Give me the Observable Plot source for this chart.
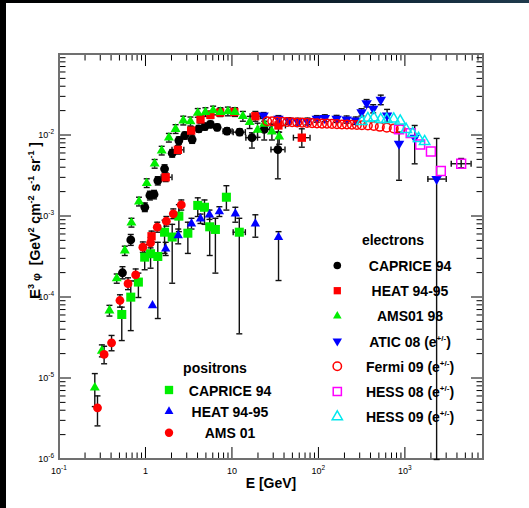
<!DOCTYPE html>
<html><head><meta charset="utf-8">
<script src="https://cdn.jsdelivr.net/npm/d3@7"></script>
<script src="https://cdn.jsdelivr.net/npm/@observablehq/plot@0.6"></script>
<style>
html,body{margin:0;padding:0;width:529px;height:508px;overflow:hidden;}
body{background:linear-gradient(to right,#000 0%,#03090d 35%,#12293a 75%,#1f3a4c 100%);position:relative;}
#chart{position:absolute;left:6px;top:3px;width:523px;height:505px;background:#fff;}
#chart svg{display:block;overflow:visible;}
</style></head><body><div id="chart"></div>
<script>
// ---------- axes ----------
const xDomain = [0.1, 8000];
const yDomain = [1e-6, 0.1];
const xMajor = [0.1, 1, 10, 100, 1000];
const xMajorLabels = ["10^-1", "1", "10", "10^2", "10^3"];
const yMajor = [1e-6, 1e-5, 1e-4, 1e-3, 1e-2];
const yMajorLabels = ["10^-6", "10^-5", "10^-4", "10^-3", "10^-2"];
const minorMultipliers = [2, 3, 4, 5, 6, 7, 8, 9];
const xTitle = "E [GeV]";

// ---------- electrons ----------
// CAPRICE 94 (e-)
const capElE   = [0.535,0.667,0.97,1.11,1.24,1.37,1.64,2.01,2.4,2.81,3.42,4.08,4.8,5.56,6.65,8.65,12.1,16.8,23.3,33.5];
const capElPhi = [2.02e-4,5.13e-4,1.3e-3,1.82e-3,1.87e-3,2.78e-3,3.88e-3,6.04e-3,8.67e-3,1.0e-2,8.9e-3,1.21e-2,1.29e-2,1.37e-2,1.26e-2,1.13e-2,1.1e-2,9.4e-3,1.19e-2,6.7e-3];
const capElLo  = [1.7e-4,4.4e-4,1.15e-3,1.6e-3,1.65e-3,2.45e-3,3.45e-3,5.4e-3,7.8e-3,9.0e-3,8.0e-3,1.1e-2,1.17e-2,1.25e-2,1.15e-2,1.03e-2,1.0e-2,7.0e-3,8.8e-3,2.92e-3];
const capElHi  = [2.4e-4,6.0e-4,1.47e-3,2.05e-3,2.1e-3,3.1e-3,4.35e-3,6.7e-3,9.6e-3,1.1e-2,9.9e-3,1.33e-2,1.42e-2,1.5e-2,1.38e-2,1.24e-2,1.21e-2,1.08e-2,1.5e-2,1.1e-2];
const capElXlo = [null,null,null,null,null,null,null,null,null,null,null,null,null,null,null,7.8,10.2,14.3,20.0,27.9];
const capElXhi = [null,null,null,null,null,null,null,null,null,null,null,null,null,null,null,9.9,14.1,19.5,27.0,40.5];

// HEAT 94-95 (e-)
const heatElE   = [1.16,1.69,2.34,3.33,4.27,5.56,7.2,10.5,18.4,34,63.4];
const heatElPhi = [5.7e-4,3.05e-3,6.65e-3,1.15e-2,1.58e-2,1.8e-2,1.92e-2,1.95e-2,1.73e-2,1.33e-2,9.4e-3];
const heatElLo  = [4.9e-4,2.7e-3,5.9e-3,1.03e-2,1.42e-2,1.62e-2,1.72e-2,1.75e-2,1.5e-2,1.1e-2,7.17e-3];
const heatElHi  = [6.6e-4,3.45e-3,7.5e-3,1.28e-2,1.75e-2,2.0e-2,2.14e-2,2.18e-2,1.98e-2,1.6e-2,1.21e-2];
const heatElXlo = [null,1.5,2.0,null,null,null,null,null,16,28,50.7];
const heatElXhi = [null,2.0,2.74,null,null,null,null,null,21,41,78.9];

// AMS01 98 (e-)
const amsElE   = [0.256,0.309,0.378,0.459,0.569,0.679,0.83,1.02,1.26,1.52,1.84,2.2,2.7,3.27,3.97,4.87,5.98,7.26,8.85,10.7,13.2,15.8,19.5,23.3,28.6,34.7];
const amsElPhi = [7.7e-6,2.2e-5,6.9e-5,1.72e-4,3.8e-4,8.4e-4,1.53e-3,2.58e-3,4.48e-3,6.5e-3,9.4e-3,1.2e-2,1.53e-2,1.49e-2,1.9e-2,1.94e-2,2.04e-2,1.95e-2,1.98e-2,1.95e-2,1.73e-2,1.46e-2,1.17e-2,1.39e-2,1.12e-2,9.7e-3];
const amsElLo  = [4.5e-6,1.85e-5,5.9e-5,1.5e-4,3.3e-4,7.4e-4,1.35e-3,2.28e-3,3.95e-3,5.75e-3,8.3e-3,1.06e-2,1.35e-2,1.31e-2,1.68e-2,1.72e-2,1.8e-2,1.72e-2,1.75e-2,1.72e-2,1.5e-2,1.22e-2,9.5e-3,1.1e-2,8.8e-3,7.8e-3];
const amsElHi  = [1.15e-5,2.6e-5,8.0e-5,1.95e-4,4.3e-4,9.5e-4,1.73e-3,2.92e-3,5.05e-3,7.35e-3,1.06e-2,1.36e-2,1.73e-2,1.69e-2,2.15e-2,2.2e-2,2.3e-2,2.2e-2,2.24e-2,2.2e-2,1.98e-2,1.72e-2,1.42e-2,1.7e-2,1.38e-2,1.1e-2];

// ATIC 08 (e+/-)
const aticE   = [22.9,34.0,44.5,57,73.7,94.4,117,160,209,267,311,356,424,519,614,844,1280,2296];
const aticPhi = [1.77e-2,1.61e-2,1.52e-2,1.49e-2,1.5e-2,1.61e-2,1.64e-2,1.61e-2,1.58e-2,1.53e-2,1.94e-2,2.5e-2,2.14e-2,2.76e-2,1.77e-2,7.9e-3,9.4e-3,2.9e-3];
const aticLo  = [1.62e-2,1.47e-2,1.38e-2,1.35e-2,1.36e-2,1.46e-2,1.48e-2,1.45e-2,1.42e-2,1.37e-2,1.74e-2,2.25e-2,1.9e-2,2.4e-2,1.45e-2,2.8e-3,4.47e-3,1e-6];
const aticHi  = [1.92e-2,1.76e-2,1.66e-2,1.63e-2,1.64e-2,1.76e-2,1.8e-2,1.77e-2,1.74e-2,1.69e-2,2.14e-2,2.78e-2,2.4e-2,3.15e-2,2.1e-2,1.1e-2,1.33e-2,9.2e-3];
const aticXlo = [null,null,null,null,null,null,null,null,null,null,null,null,null,null,null,null,null,1820];
const aticXhi = [null,null,null,null,null,null,null,null,null,null,null,null,null,null,null,null,null,2965];

// Fermi 09 (e+/-)
const fermiE   = [25.2,28.8,32.9,37.6,43,49,56,63.9,72.9,83.4,95,108.6,124,141.6,161.8,184.5,211,240.5,275,314,368,431,506,609,733,883];
const fermiPhi = [1.50e-2,1.50e-2,1.49e-2,1.48e-2,1.47e-2,1.46e-2,1.45e-2,1.44e-2,1.43e-2,1.42e-2,1.41e-2,1.40e-2,1.40e-2,1.39e-2,1.38e-2,1.37e-2,1.37e-2,1.36e-2,1.35e-2,1.34e-2,1.33e-2,1.31e-2,1.28e-2,1.25e-2,1.22e-2,1.2e-2];

// HESS 08 (e+/-)
const hess08E   = [844,1150,1482,1972,2570,4416];
const hess08Phi = [1.19e-2,1.07e-2,7.75e-3,6.34e-3,3.65e-3,4.48e-3];
const hess08Lo  = [null,null,null,null,null,3.99e-3];
const hess08Hi  = [null,null,null,null,null,5.2e-3];
const hess08Xlo = [null,null,null,null,null,3390];
const hess08Xhi = [null,null,null,null,null,5750];

// HESS 09 (e+/-)
const hess09E   = [314,368,431,519,609,733,871,1021,1213,1422,1668];
const hess09Phi = [1.49e-2,1.62e-2,1.66e-2,1.58e-2,1.58e-2,1.6e-2,1.51e-2,1.19e-2,1.06e-2,9.2e-3,8.44e-3];

// ---------- positrons ----------
// CAPRICE 94 (e+)
const capPosE   = [0.525,0.667,0.817,0.966,1.13,1.37,1.64,2.01,2.4,3.05,3.97,4.75,5.46,6.35,8.51,12.0];
const capPosPhi = [6.17e-5,1.01e-4,1.55e-4,3.15e-4,3.47e-4,3.21e-4,6.4e-4,5.58e-4,1.01e-3,6.22e-4,1.37e-3,1.3e-3,7.46e-4,6.92e-4,1.73e-3,6.4e-4];
const capPosLo  = [2.94e-5,3.9e-5,1.0e-4,2.2e-4,2.3e-4,5.5e-5,3.5e-4,1.5e-4,6.5e-4,3.5e-4,1.0e-3,8e-4,3.3e-4,2.0e-4,1.2e-3,3.56e-5];
const capPosHi  = [7.6e-5,1.6e-4,2.0e-4,4.5e-4,4.6e-4,4.8e-4,9e-4,8e-4,1.4e-3,8.5e-4,1.7e-3,1.6e-3,1.0e-3,9.5e-4,2.4e-3,9.5e-4];
const capPosXlo = [null,null,null,null,null,null,null,null,null,null,null,null,null,null,null,10.2];
const capPosXhi = [null,null,null,null,null,null,null,null,null,null,null,null,null,null,null,14.1];

// HEAT 94-95 (e+)
const heatPosE   = [1.19,1.69,2.36,3.36,4.27,5.42,7.06,10.8,18.4,34.1];
const heatPosPhi = [7.96e-5,3.99e-4,5.82e-4,8.13e-4,9.37e-4,1.05e-3,1.15e-3,1.08e-3,8.13e-4,5.55e-4];
const heatPosLo  = [null,3.3e-4,4.6e-4,7.0e-4,8.2e-4,9.2e-4,1.0e-3,8.5e-4,5.55e-4,1.62e-4];
const heatPosHi  = [null,4.8e-4,7.0e-4,9.5e-4,1.07e-3,1.2e-3,1.32e-3,1.3e-3,1.05e-3,6.5e-4];

// AMS 01 (e+)
const amsPosE   = [0.275,0.328,0.40,0.50,0.62,0.76,0.92,1.13,1.35,1.72,2.07,2.56];
const amsPosPhi = [4.35e-6,1.98e-5,2.76e-5,9.18e-5,1.48e-4,1.9e-4,4.18e-4,4.73e-4,7.38e-4,8.75e-4,1.08e-3,1.39e-3];
const amsPosLo  = [2.6e-6,1.52e-5,2.2e-5,7.6e-5,1.25e-4,1.6e-4,3.6e-4,4.1e-4,6.4e-4,7.6e-4,9.4e-4,1.2e-3];
const amsPosHi  = [6.1e-6,2.5e-5,3.4e-5,1.08e-4,1.75e-4,2.25e-4,4.85e-4,5.5e-4,8.5e-4,1.0e-3,1.24e-3,1.6e-3];

// ---------- symbols ----------
const S3 = Math.sqrt(3);
const triDown = {draw(ctx, size){const y=-Math.sqrt(size/(S3*3)); ctx.moveTo(0,-y*2); ctx.lineTo(-S3*y,y); ctx.lineTo(S3*y,y); ctx.closePath();}};
const hCap = {draw(ctx){ctx.moveTo(-3,0); ctx.lineTo(3,0);}};
const vCap = {draw(ctx){ctx.moveTo(0,-3); ctx.lineTo(0,3);}};

const electrons = [
  {label:"CAPRICE 94", E:capElE, phi:capElPhi, lo:capElLo, hi:capElHi, xlo:capElXlo, xhi:capElXhi, symbol:"circle", fill:"#000", stroke:"none", r:4.4, lr:3.8},
  {label:"HEAT 94-95", E:heatElE, phi:heatElPhi, lo:heatElLo, hi:heatElHi, xlo:heatElXlo, xhi:heatElXhi, symbol:"square", fill:"#ff0000", stroke:"none", r:4.7, lr:4.1},
  {label:"AMS01 98", E:amsElE, phi:amsElPhi, lo:amsElLo, hi:amsElHi, symbol:"triangle", fill:"#00ee00", stroke:"none", r:3.7, lr:3.2},
  {label:"ATIC 08 (e^+/-)", E:aticE, phi:aticPhi, lo:aticLo, hi:aticHi, xlo:aticXlo, xhi:aticXhi, symbol:triDown, fill:"#0000ff", stroke:"none", r:3.9, lr:3.5},
  {label:"Fermi 09 (e^+/-)", E:fermiE, phi:fermiPhi, symbol:"circle", fill:"none", stroke:"#ff0000", r:4.3, lr:4.2},
  {label:"HESS 08 (e^+/-)", E:hess08E, phi:hess08Phi, lo:hess08Lo, hi:hess08Hi, xlo:hess08Xlo, xhi:hess08Xhi, symbol:"square", fill:"none", stroke:"#ff00ff", r:5.0, lr:4.6},
  {label:"HESS 09 (e^+/-)", E:hess09E, phi:hess09Phi, symbol:"triangle", fill:"none", stroke:"#00e8ee", r:3.9, lr:3.8}
];
const positrons = [
  {label:"CAPRICE 94", E:capPosE, phi:capPosPhi, lo:capPosLo, hi:capPosHi, xlo:capPosXlo, xhi:capPosXhi, symbol:"square", fill:"#00ee00", stroke:"none", r:5.1, lr:4.7},
  {label:"HEAT 94-95", E:heatPosE, phi:heatPosPhi, lo:heatPosLo, hi:heatPosHi, symbol:"triangle", fill:"#0000ff", stroke:"none", r:3.5, lr:3.3},
  {label:"AMS 01", E:amsPosE, phi:amsPosPhi, lo:amsPosLo, hi:amsPosHi, symbol:"circle", fill:"#ff0000", stroke:"none", r:4.4, lr:4.2}
];
const allSeries = [...electrons, ...positrons];

// ---------- rows for the library ----------
const rows = s => s.E.map((e,i)=>({E:e, phi:s.phi[i]}));
const yErr = [], yCaps = [], xErr = [], xCaps = [];
for (const s of allSeries) {
  s.E.forEach((e,i)=>{
    if (s.lo && s.lo[i] != null) {
      yErr.push({E:e, lo:s.lo[i], hi:s.hi[i]});
      yCaps.push({E:e, v:s.lo[i]}, {E:e, v:s.hi[i]});
    }
    if (s.xlo && s.xlo[i] != null) {
      xErr.push({phi:s.phi[i], xlo:s.xlo[i], xhi:s.xhi[i]});
      xCaps.push({x:s.xlo[i], phi:s.phi[i]}, {x:s.xhi[i], phi:s.phi[i]});
    }
  });
}

const FONT = "'Liberation Sans', Arial, Helvetica, sans-serif";

function addPow(text, label, base, sup) {
  const [b, e] = label.split("^");
  text.append("tspan").attr("font-size", base).text(b);
  if (e !== undefined) text.append("tspan").attr("font-size", sup).attr("dy", -base*0.45).text(e);
}

function axesMark(index, scales, values, dims) {
  const X = scales.x, Y = scales.y;
  const L = dims.marginLeft, R = dims.width - dims.marginRight;
  const T = dims.marginTop, B = dims.height - dims.marginBottom;
  const g = d3.create("svg:g").attr("font-family", FONT);
  const majorLen = 12, minorLen = 6.5;
  let p = "";
  for (const v of xMajor) { const px = X(v); p += `M${px},${B}V${B-majorLen}M${px},${T}V${T+majorLen}`; }
  for (const d of xMajor) for (const m of minorMultipliers) {
    const v = d*m; if (v >= xDomain[1]*0.999) continue;
    const px = X(v); p += `M${px},${B}V${B-minorLen}M${px},${T}V${T+minorLen}`;
  }
  for (const v of yMajor) { const py = Y(v); p += `M${L},${py}H${L+majorLen}M${R},${py}H${R-majorLen}`; }
  for (const d of yMajor) for (const m of minorMultipliers) {
    const v = d*m; if (v >= yDomain[1]*0.999) continue;
    const py = Y(v); p += `M${L},${py}H${L+minorLen}M${R},${py}H${R-minorLen}`;
  }
  g.append("path").attr("d", p).attr("fill","none").attr("stroke","#000").attr("stroke-width",1);
  g.append("rect").attr("x",L).attr("y",T).attr("width",R-L).attr("height",B-T)
    .attr("fill","none").attr("stroke","#707070").attr("stroke-width",2);
  xMajor.forEach((v,i)=>{
    const t = g.append("text").attr("x", X(v)).attr("y", B+15).attr("text-anchor","middle").attr("fill","#000");
    addPow(t, xMajorLabels[i], 9, 6.5);
  });
  yMajor.forEach((v,i)=>{
    const t = g.append("text").attr("x", L-5).attr("y", Y(v)+3).attr("text-anchor","end").attr("fill","#000");
    addPow(t, yMajorLabels[i], 9, 6.5);
  });
  // axis titles
  g.append("text").attr("x", (L+R)/2 + 0).attr("y", B+29).attr("text-anchor","middle")
    .attr("font-size",14).attr("font-weight","bold").text(xTitle);
  const yt = g.append("text").attr("transform", `translate(${L-19.5},${(T+B)/2 - 36}) rotate(-90)`)
    .attr("text-anchor","middle").attr("font-weight","bold").attr("font-size",14);
  const parts = [["E",15,0],["3",9,-6],[" φ",11,6],["  [GeV",14,0],["2",9,-6],[" cm",14,6],["-2",9,-6],[" s",14,6],["-1",9,-6],[" sr",14,6],["-1",9,-6],[" ]",14,6]];
  for (const [txt,fs,dy] of parts) yt.append("tspan").attr("font-size",fs).attr("dy",dy).text(txt);
  return g.node();
}

function legendMark(index, scales, values, dims) {
  const g = d3.create("svg:g").attr("font-family", FONT).attr("font-weight","bold");
  const drawSym = (s, cx, cy) => {
    const sym = typeof s.symbol === "string" ? {circle:d3.symbolCircle, square:d3.symbolSquare, triangle:d3.symbolTriangle}[s.symbol] : s.symbol;
    g.append("path").attr("transform",`translate(${cx},${cy})`)
      .attr("d", d3.symbol(sym, Math.PI*s.lr*s.lr)())
      .attr("fill", s.fill).attr("stroke", s.stroke === "none" ? null : s.stroke)
      .attr("stroke-width", 1.5);
  };
  const entry = (s, mx, tx, cy) => {
    drawSym(s, mx, cy);
    const t = g.append("text").attr("x", tx).attr("y", cy+5.5).attr("text-anchor","middle").attr("font-size",14).attr("fill","#000");
    const m = s.label.match(/^(.*\(e)\^(\+\/-)(\))$/);
    if (m) {
      t.append("tspan").text(m[1]);
      t.append("tspan").attr("font-size",8).attr("dy",-6).text(m[2]);
      t.append("tspan").attr("dy",6).text(m[3]);
    } else t.text(s.label);
  };
  g.append("text").attr("x",387).attr("y",242).attr("text-anchor","middle").attr("font-size",14).text("electrons");
  electrons.forEach((s,i)=>entry(s, 331.3, 404, 262.5 + 25.2*i));
  g.append("text").attr("x",209).attr("y",370).attr("text-anchor","middle").attr("font-size",14).text("positrons");
  positrons.forEach((s,i)=>entry(s, 163, 224, 387 + 21.4*i));
  return g.node();
}

const markerMarks = allSeries.map(s => Plot.dot(rows(s), {
  x:"E", y:"phi", symbol: s.symbol, r: s.r, fill: s.fill,
  stroke: s.stroke, strokeWidth: s.stroke === "none" ? 0 : 1.5
}));

const chart = Plot.plot({
  width: 523, height: 505,
  marginLeft: 53, marginRight: 46, marginTop: 51, marginBottom: 49,
  style: {background: "#fff", fontFamily: FONT, overflow: "visible"},
  x: {type: "log", domain: xDomain, axis: null},
  y: {type: "log", domain: yDomain, axis: null},
  marks: [
    axesMark,
    Plot.ruleX(yErr, {x:"E", y1:"lo", y2:"hi", stroke:"#111", strokeWidth:1.4}),
    Plot.dot(yCaps, {x:"E", y:"v", symbol:hCap, r:3, fill:"none", stroke:"#111", strokeWidth:1.4}),
    Plot.ruleY(xErr, {y:"phi", x1:"xlo", x2:"xhi", stroke:"#111", strokeWidth:1.4}),
    Plot.dot(xCaps, {x:"x", y:"phi", symbol:vCap, r:3, fill:"none", stroke:"#111", strokeWidth:1.4}),
    ...markerMarks,
    legendMark
  ]
});
document.getElementById("chart").appendChild(chart);
</script></body></html>
